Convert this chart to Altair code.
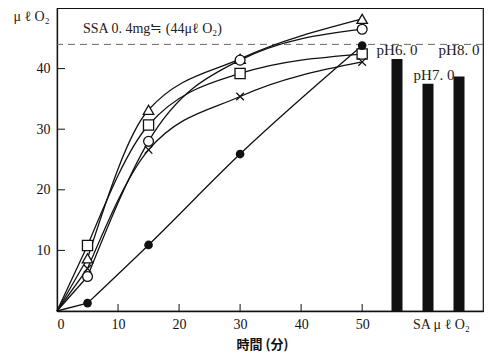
import altair as alt
import pandas as pd

# ---- data ----
times = [0, 5, 15, 30, 50]
series_names = ["triangle", "square", "circle", "cross", "dot"]
tri_vals = [0, 8.7, 33.2, 41.6, 48.2]
sq_vals = [0, 10.8, 30.7, 39.2, 42.4]
circ_vals = [0, 5.7, 28.0, 41.4, 46.5]
cross_vals = [0, 7.0, 26.6, 35.4, 41.1]
dot_vals = [0, 1.3, 10.9, 25.9, 43.8]

ssa_level = [44]
ph_labels = ["pH6. 0", "pH7. 0", "pH8. 0"]
ph_vals = [41.6, 37.5, 38.7]

x_ticks = [10, 20, 30, 40, 50]
y_ticks = [10, 20, 30, 40]

rows = []
for name, vals in zip(series_names, [tri_vals, sq_vals, circ_vals, cross_vals, dot_vals]):
    for t, v in zip(times, vals):
        rows.append({"s": name, "t": t, "v": v})
line_df = pd.DataFrame(rows)
pt_df = line_df[line_df["t"] > 0]
start_df = line_df[line_df["t"] <= 5]
bar_df = pd.DataFrame({"ph": ph_labels, "v": ph_vals})

xscale = alt.Scale(domain=[0, 69.8], nice=False, zero=False)
yscale = alt.Scale(domain=[0, 50], nice=False)
serif = "Liberation Serif"

lines = alt.Chart(pt_df).mark_line(
    interpolate="monotone", color="#111", strokeWidth=1.3
).encode(
    x=alt.X("t:Q", scale=xscale, axis=alt.Axis(
        values=[0, 10, 20, 30, 40, 50], title="時間 (分)",
        titleFont="Noto Sans CJK JP", titleFontSize=13, titleFontWeight="bold",
        titleX=205, titleY=37, titleBaseline="alphabetic", titleColor="#111",
        labelPadding=6, grid=False)),
    y=alt.Y("v:Q", scale=yscale, axis=alt.Axis(
        values=y_ticks, title="μ ℓ  O₂", titleAngle=0, titleX=-26, titleY=8,
        titleBaseline="middle", titleAlign="center", titleFont=serif,
        titleFontSize=14, titleFontWeight="normal", titleColor="#222",
        labelPadding=7, grid=False)),
    detail="s:N",
)

start_lines = alt.Chart(start_df).mark_line(color="#111", strokeWidth=1.3).encode(
    x=alt.X("t:Q", scale=xscale),
    y=alt.Y("v:Q", scale=yscale),
    detail="s:N",
)

open_pts = alt.Chart(pt_df[pt_df["s"] != "dot"]).mark_point(
    filled=False, fill="white", fillOpacity=1, stroke="#111", strokeWidth=1.3, opacity=1
).encode(
    x=alt.X("t:Q", scale=xscale),
    y=alt.Y("v:Q", scale=yscale),
    shape=alt.Shape("s:N", legend=None, scale=alt.Scale(
        domain=["triangle", "square", "circle", "cross"],
        range=["triangle-up", "square", "circle", "M-0.8,-0.8L0.8,0.8M-0.8,0.8L0.8,-0.8"])),
    size=alt.Size("s:N", legend=None, scale=alt.Scale(
        domain=["triangle", "square", "circle", "cross"], range=[110, 90, 85, 70])),
)

dots = alt.Chart(pt_df[pt_df["s"] == "dot"]).mark_point(
    filled=True, color="#111", size=75, opacity=1, shape="circle"
).encode(
    x=alt.X("t:Q", scale=xscale),
    y=alt.Y("v:Q", scale=yscale),
)

dash = alt.Chart(pd.DataFrame({"y": ssa_level})).mark_rule(
    strokeDash=[7, 5], color="#666", strokeWidth=1
).encode(y=alt.Y("y:Q", scale=yscale))

xt = alt.Chart(pd.DataFrame({"t": x_ticks})).mark_rule(color="#111").encode(
    x=alt.X("t:Q", scale=xscale), y=alt.value(303), y2=alt.value(296))
yt = alt.Chart(pd.DataFrame({"v": y_ticks})).mark_rule(color="#111").encode(
    y=alt.Y("v:Q", scale=yscale), x=alt.value(0), x2=alt.value(8))

ssa_text = alt.Chart(pd.DataFrame({"a": [1]})).mark_text(
    text="SSA 0. 4mg≒ (44μℓ O₂)", font=serif, fontSize=14, align="left",
    baseline="middle", color="#222"
).encode(x=alt.value(26), y=alt.value(21))

sa_text = alt.Chart(pd.DataFrame({"a": [1]})).mark_text(
    text="SA    μ ℓ  O₂", font=serif, fontSize=14, align="left",
    baseline="middle", color="#222"
).encode(x=alt.value(356), y=alt.value(317))

main = alt.layer(dash, start_lines, lines, open_pts, dots, xt, yt, ssa_text, sa_text)

phscale = alt.Scale(type="point", domain=ph_labels, range=[340, 402], padding=0)
bars = alt.Chart(bar_df).mark_bar(size=11, color="#111").encode(
    x=alt.X("ph:N", scale=phscale, axis=None),
    y=alt.Y("v:Q", scale=yscale),
)
lab_hi = alt.Chart(bar_df).transform_filter(
    alt.FieldOneOfPredicate(field="ph", oneOf=[ph_labels[0], ph_labels[2]])
).mark_text(font=serif, fontSize=15, baseline="alphabetic", color="#222").encode(
    x=alt.X("ph:N", scale=phscale, axis=None), y=alt.value(47), text="ph:N")
lab_lo = alt.Chart(bar_df).transform_filter(
    alt.FieldEqualPredicate(field="ph", equal=ph_labels[1])
).mark_text(font=serif, fontSize=15, baseline="alphabetic", color="#222", dx=6).encode(
    x=alt.X("ph:N", scale=phscale, axis=None), y=alt.value(72), text="ph:N")

barlayer = alt.layer(bars, lab_hi, lab_lo)

chart = alt.layer(main, barlayer).resolve_scale(x="independent").properties(
    width=426, height=303,
    autosize=alt.AutoSizeParams(type="none"),
    padding={"left": 49, "top": 0, "right": 2, "bottom": 41},
).configure_view(stroke="#111", strokeWidth=1.2).configure_axis(
    domainColor="#111", domainWidth=1.3, tickSize=0,
    labelFont=serif, labelFontSize=14, labelColor="#111",
)

chart.save("out.html", embed_options={"renderer": "svg", "actions": False})
